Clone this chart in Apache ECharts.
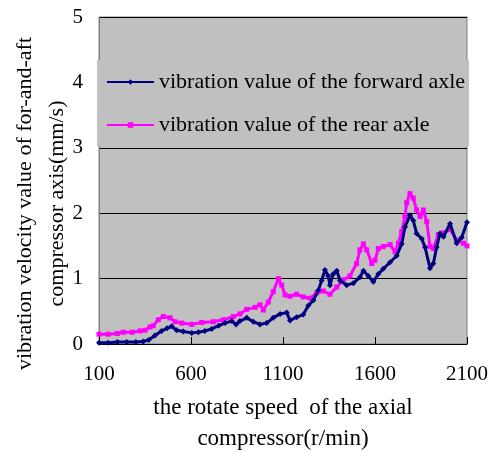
<!DOCTYPE html>
<html>
<head>
<meta charset="utf-8">
<script src="https://cdn.jsdelivr.net/npm/echarts@6/dist/echarts.min.js"></script>
<style>
  html, body { margin: 0; padding: 0; background: #fff; }
  #main { width: 492px; height: 451px; }
</style>
</head>
<body>
<div id="main"></div>
<script>
var serifFont = "'Liberation Serif', 'Times New Roman', serif";

// forward axle: rotate speed (r/min) and vibration value (mm/s)
var forwardSpeed = [100, 150, 200, 250, 300, 340, 370, 404, 440, 470, 495, 522, 558, 604, 640, 675, 712, 750, 785, 821,
    845, 866, 903, 939, 975, 1011, 1047, 1084, 1120, 1138, 1174, 1210, 1238, 1265, 1292, 1310, 1328, 1346, 1355, 1373,
    1392, 1410, 1446, 1482, 1518, 1537, 1564, 1591, 1618, 1645, 1682, 1718, 1745, 1763, 1790, 1808, 1826, 1854, 1872,
    1899, 1917, 1935, 1953, 1972, 2008, 2044, 2071, 2100];
var forwardValue = [0.02, 0.02, 0.03, 0.03, 0.03, 0.04, 0.06, 0.13, 0.2, 0.24, 0.27, 0.21, 0.19, 0.17, 0.18, 0.2, 0.23, 0.28, 0.32, 0.35,
    0.3, 0.35, 0.4, 0.34, 0.3, 0.32, 0.4, 0.46, 0.48, 0.36, 0.41, 0.45, 0.59, 0.67, 0.82, 0.97, 1.13, 1.04, 0.9, 1.07,
    1.12, 0.97, 0.9, 0.93, 1.02, 1.12, 1.04, 0.95, 1.07, 1.15, 1.25, 1.35, 1.53, 1.79, 1.97, 1.89, 1.69, 1.61, 1.48,
    1.16, 1.23, 1.48, 1.69, 1.64, 1.84, 1.54, 1.63, 1.86];

// rear axle
var rearSpeed = [100, 150, 200, 232, 280, 323, 350, 377, 395, 422, 450, 486, 513, 550, 604, 658, 721, 776, 830, 866,
    903, 948, 975, 993, 1020, 1047, 1075, 1093, 1111, 1138, 1174, 1210, 1247, 1283, 1319, 1355, 1392, 1428, 1464, 1500,
    1518, 1537, 1555, 1582, 1600, 1618, 1645, 1682, 1709, 1727, 1745, 1763, 1772, 1790, 1808, 1826, 1845, 1863, 1881,
    1899, 1917, 1944, 1972, 2008, 2044, 2081, 2100];
var rearValue = [0.15, 0.15, 0.16, 0.18, 0.18, 0.2, 0.21, 0.26, 0.28, 0.37, 0.42, 0.4, 0.34, 0.32, 0.3, 0.33, 0.34, 0.37, 0.42, 0.46,
    0.53, 0.56, 0.6, 0.52, 0.64, 0.8, 1.0, 0.9, 0.75, 0.73, 0.76, 0.72, 0.7, 0.78, 0.81, 0.76, 0.87, 0.98, 1.04, 1.23,
    1.44, 1.53, 1.44, 1.23, 1.28, 1.46, 1.49, 1.52, 1.41, 1.54, 1.72, 1.95, 2.16, 2.3, 2.23, 2.05, 1.95, 2.05, 1.87,
    1.49, 1.46, 1.67, 1.7, 1.75, 1.59, 1.54, 1.5];

var seriesNames = ['vibration value of the forward axle', 'vibration value of the rear axle'];
var xTicks = [100, 600, 1100, 1600, 2100];
var yTicks = [0, 1, 2, 3, 4, 5];

function pairUp(xs, ys) {
    var out = [];
    for (var i = 0; i < xs.length; i++) {
        out.push([xs[i], ys[i]]);
    }
    return out;
}

var myChart = echarts.init(document.getElementById('main'));
var option = {
    animation: false,
    textStyle: { fontFamily: serifFont },
    grid: {
        left: 99,
        right: 25,
        top: 17,
        bottom: 107,
        outerBoundsMode: 'none',
        containLabel: false,
        show: true,
        backgroundColor: '#c0c0c0',
        borderColor: '#808080',
        borderWidth: 1
    },
    graphic: [
        {
            // legend box hides the plot border behind it
            type: 'rect',
            z: 3,
            shape: { x: 97, y: 60, width: 372, height: 86 },
            style: { fill: '#c0c0c0' }
        }
    ],
    legend: {
        orient: 'vertical',
        left: 106,
        top: 71,
        padding: 0,
        itemWidth: 47,
        itemHeight: 7,
        itemGap: 21,
        z: 5,
        data: seriesNames,
        textStyle: { fontFamily: serifFont, fontSize: 22, color: '#000' }
    },
    xAxis: {
        type: 'value',
        min: xTicks[0],
        max: xTicks[xTicks.length - 1],
        interval: 500,
        name: 'the rotate speed  of the axial\ncompressor(r/min)',
        nameLocation: 'middle',
        nameGap: 48,
        nameMoveOverlap: false,
        nameTextStyle: { fontFamily: serifFont, fontSize: 23, lineHeight: 31, color: '#000' },
        axisLine: { lineStyle: { color: '#000', width: 1 } },
        axisTick: { inside: true, length: 7, lineStyle: { color: '#000' } },
        axisLabel: {
            margin: 20, fontSize: 21, color: '#000', fontFamily: serifFont,
            formatter: function (v) { return String(v); }
        },
        splitLine: { show: false }
    },
    yAxis: {
        type: 'value',
        min: yTicks[0],
        max: yTicks[yTicks.length - 1],
        interval: 1,
        name: 'vibration velocity value of for-and-aft\ncompressor axis(mm/s)',
        nameLocation: 'middle',
        nameGap: 26,
        nameMoveOverlap: false,
        nameTextStyle: { fontFamily: serifFont, fontSize: 22, lineHeight: 32, color: '#000', padding: [0, 46, 0, 0] },
        axisLine: { show: true, lineStyle: { color: '#808080', width: 1 } },
        axisTick: { show: false },
        axisLabel: { margin: 16, fontSize: 21, color: '#000', fontFamily: serifFont },
        splitLine: { show: true, lineStyle: { color: '#000', width: 1 } }
    },
    series: [
        {
            name: seriesNames[0],
            type: 'line',
            data: pairUp(forwardSpeed, forwardValue),
            symbol: 'diamond',
            symbolSize: 6,
            z: 3,
            itemStyle: { color: '#000080' },
            lineStyle: { color: '#000080', width: 3 }
        },
        {
            name: seriesNames[1],
            type: 'line',
            data: pairUp(rearSpeed, rearValue),
            symbol: 'rect',
            symbolSize: 5,
            z: 2,
            itemStyle: { color: '#ff00ff' },
            lineStyle: { color: '#ff00ff', width: 3 }
        }
    ]
};
myChart.setOption(option);
</script>
</body>
</html>
